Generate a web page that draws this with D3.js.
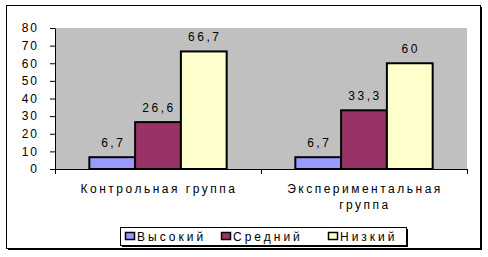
<!DOCTYPE html>
<html><head><meta charset="utf-8">
<script src="https://cdn.jsdelivr.net/npm/d3@7"></script>
<style>
body{margin:0;background:#fff;}
text{font-family:"Liberation Sans",Arial,sans-serif;font-size:12px;fill:#000;}
</style></head>
<body>
<svg id="chart" width="488" height="257"></svg>
<script>
const categories = ["Контрольная группа", "Экспериментальная группа"];
const categoryLines = [["Контрольная группа"], ["Экспериментальная", "группа"]];
const seriesNames = ["Высокий", "Средний", "Низкий"];
const seriesColors = ["#9999FF", "#993366", "#FFFFCC"];
const vysokiy = [6.7, 6.7];
const sredniy = [26.6, 33.3];
const nizkiy = [66.7, 60];
const yTicks = [0, 10, 20, 30, 40, 50, 60, 70, 80];
const seriesValues = [vysokiy, sredniy, nizkiy];

const svg = d3.select("#chart");
const plot = {l: 55, t: 28, r: 467, b: 169};

// outer frame with shadow
svg.append("rect").attr("x", 6.5).attr("y", 5.5).attr("width", 474).attr("height", 243)
  .attr("fill", "#fff").attr("stroke", "#000").attr("stroke-width", 1);
svg.append("line").attr("x1", 481.5).attr("x2", 481.5).attr("y1", 7).attr("y2", 250).attr("stroke", "#000");
svg.append("line").attr("x1", 8).attr("x2", 482).attr("y1", 249.5).attr("y2", 249.5).attr("stroke", "#000");

const y = d3.scaleLinear().domain([0, 80]).range([plot.b, plot.t]);
const x0 = d3.scaleBand().domain(categories).range([plot.l, plot.r]).paddingInner(0).paddingOuter(0);
const x1 = d3.scaleBand().domain(seriesNames).range([0, x0.bandwidth()]).paddingInner(0).paddingOuter(0.75);

svg.append("rect").attr("x", plot.l).attr("y", plot.t).attr("width", plot.r - plot.l).attr("height", plot.b - plot.t)
  .attr("fill", "#C0C0C0");

// bars
categories.forEach((c, ci) => {
  const g = svg.append("g").attr("transform", `translate(${x0(c)},0)`);
  seriesNames.forEach((s, si) => {
    const v = seriesValues[si][ci];
    g.append("rect").attr("x", x1(s)).attr("y", y(v)).attr("width", x1.bandwidth()).attr("height", y(0) - y(v))
      .attr("fill", seriesColors[si]).attr("stroke", "#000").attr("stroke-width", 2);
    g.append("text").attr("x", x1(s) + x1.bandwidth() / 2 + 1).attr("y", y(v) - 10)
      .attr("text-anchor", "middle").style("letter-spacing", "2.5px")
      .text(String(v).replace(".", ","));
  });
});

// y axis
const yAxis = svg.append("g").attr("transform", `translate(${plot.l},0)`)
  .call(d3.axisLeft(y).tickValues(yTicks).tickSize(5).tickSizeOuter(0).tickPadding(11).tickFormat(d3.format("d")));
yAxis.select(".domain").attr("stroke", "#000");
yAxis.selectAll("line").attr("stroke", "#000");
yAxis.selectAll("text").attr("font-family", null).attr("font-size", null).style("letter-spacing", "2px").attr("fill", "#000");

// x axis
svg.append("line").attr("x1", plot.l).attr("x2", plot.r).attr("y1", plot.b + 0.5).attr("y2", plot.b + 0.5).attr("stroke", "#000");
const xTickPos = categories.map(c => x0(c)).concat([x0(categories[categories.length - 1]) + x0.bandwidth()]);
xTickPos.forEach(p => {
  svg.append("line").attr("x1", p + 0.5).attr("x2", p + 0.5).attr("y1", plot.b).attr("y2", plot.b + 5).attr("stroke", "#000");
});
categories.forEach((c, ci) => {
  const t = svg.append("text").attr("text-anchor", "middle").style("letter-spacing", "2.5px");
  categoryLines[ci].forEach((ln, li) => {
    t.append("tspan").attr("x", x0(c) + x0.bandwidth() / 2 + 1).attr("y", 193 + li * 16).text(ln);
  });
});

// legend
svg.append("rect").attr("x", 120.5).attr("y", 227.5).attr("width", 286).attr("height", 18)
  .attr("fill", "#fff").attr("stroke", "#000");
svg.append("line").attr("x1", 407.5).attr("x2", 407.5).attr("y1", 229).attr("y2", 247).attr("stroke", "#000");
svg.append("line").attr("x1", 122).attr("x2", 408).attr("y1", 246.5).attr("y2", 246.5).attr("stroke", "#000");
const legX = [125, 221, 328];
seriesNames.forEach((s, si) => {
  svg.append("rect").attr("x", legX[si] + 0.5).attr("y", 232.5).attr("width", 9).attr("height", 7)
    .attr("fill", seriesColors[si]).attr("stroke", "#000").attr("stroke-width", 1.5);
  svg.append("text").attr("x", legX[si] + 12).attr("y", 241).style("letter-spacing", "3px").text(s);
});
</script>
</body></html>
